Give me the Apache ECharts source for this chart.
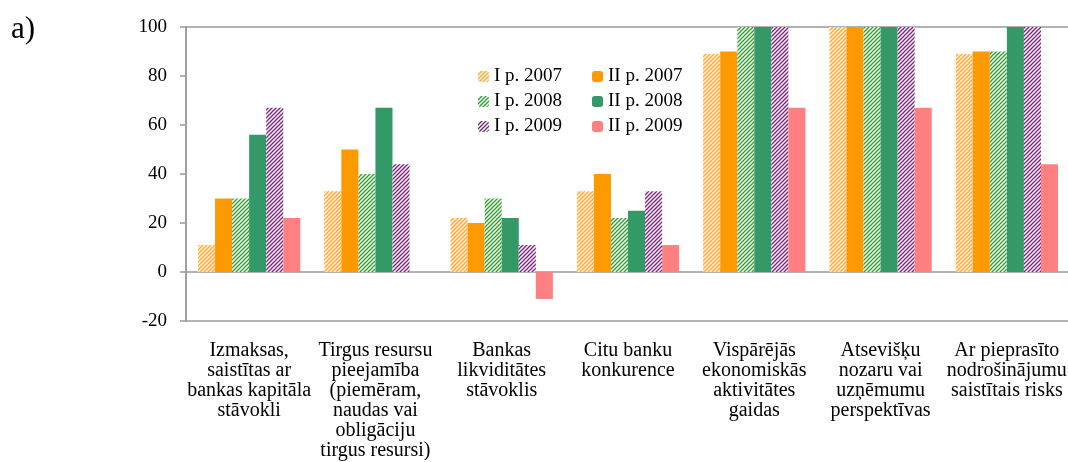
<!DOCTYPE html>
<html>
<head>
<meta charset="utf-8">
<script src="https://cdn.jsdelivr.net/npm/echarts@6/dist/echarts.min.js"></script>
<style>
  html, body { margin: 0; padding: 0; background: #fff; }
  #chart { width: 1068px; height: 462px; }
</style>
</head>
<body>
<div id="chart"></div>
<script>
  // kategorijas
  var categories = [
    'Izmaksas,\nsaistītas ar\nbankas kapitāla\nstāvokli',
    'Tirgus resursu\npieejamība\n(piemēram,\nnaudas vai\nobligāciju\ntirgus resursi)',
    'Bankas\nlikviditātes\nstāvoklis',
    'Citu banku\nkonkurence',
    'Vispārējās\nekonomiskās\naktivitātes\ngaidas',
    'Atsevišķu\nnozaru vai\nuzņēmumu\nperspektīvas',
    'Ar pieprasīto\nnodrošinājumu\nsaistītais risks'
  ];
  var seriesNames = ['I p. 2007', 'II p. 2007', 'I p. 2008', 'II p. 2008', 'I p. 2009', 'II p. 2009'];

  var iP2007 = [11, 33, 22, 33, 89, 100, 89];
  var iiP2007 = [30, 50, 20, 40, 90, 100, 90];
  var iP2008 = [30, 40, 30, 22, 100, 100, 90];
  var iiP2008 = [56, 67, 22, 25, 100, 100, 100];
  var iP2009 = [67, 44, 11, 33, 100, 100, 100];
  var iiP2009 = [22, 0, -11, 11, 67, 67, 44];

  var yTicks = [-20, 0, 20, 40, 60, 80, 100];

  // svītrots fons
  function hatch(color, bg) {
    var c = document.createElement('canvas');
    c.width = 4;
    c.height = 4;
    var g = c.getContext('2d');
    g.fillStyle = bg;
    g.fillRect(0, 0, 4, 4);
    g.strokeStyle = color;
    g.lineWidth = 1.3;
    g.beginPath();
    g.moveTo(0, 4); g.lineTo(4, 0);
    g.moveTo(-1, 1); g.lineTo(1, -1);
    g.moveTo(3, 5); g.lineTo(5, 3);
    g.stroke();
    return {image: c, repeat: 'repeat'};
  }

  var colors = [
    hatch('#FFAA33', '#FFF3E0'),
    '#FF9900',
    hatch('#2E9A2E', '#FFFFFF'),
    '#339966',
    hatch('#7A1F7A', '#FFFFFF'),
    '#FF8080'
  ];
  var values = [iP2007, iiP2007, iP2008, iiP2008, iP2009, iiP2009];

  var series = [];
  for (var i = 0; i < seriesNames.length; i++) {
    series.push({
      name: seriesNames[i],
      type: 'bar',
      data: values[i],
      barGap: '0%',
      barCategoryGap: '19%',
      itemStyle: {color: colors[i]}
    });
  }

  var serif = 'Liberation Serif';
  var myChart = echarts.init(document.getElementById('chart'));
  myChart.setOption({
    animation: false,
    textStyle: {fontFamily: serif, color: '#000'},
    graphic: [{
      type: 'text', left: 11, top: 14,
      style: {text: 'a)', font: '31px "Liberation Serif"', fill: '#000'}
    }],
    legend: [{
      data: [seriesNames[0], seriesNames[2], seriesNames[4]],
      orient: 'vertical',
      left: 478, top: 67, padding: 0,
      itemWidth: 11, itemHeight: 11, itemGap: 6,
      textStyle: {fontFamily: serif, fontSize: 19, color: '#000'}
    }, {
      data: [seriesNames[1], seriesNames[3], seriesNames[5]],
      orient: 'vertical',
      left: 592, top: 67, padding: 0,
      itemWidth: 11, itemHeight: 11, itemGap: 6,
      textStyle: {fontFamily: serif, fontSize: 19, color: '#000'}
    }],
    grid: {
      left: 186, top: 27, width: 884, height: 294,
      containLabel: false, outerBoundsMode: 'none',
      show: true, borderColor: '#9a9a9a', borderWidth: 1.5
    },
    xAxis: {
      type: 'category',
      data: categories,
      axisLine: {onZero: true, lineStyle: {color: '#9a9a9a', width: 1.5}},
      axisTick: {inside: true, length: 5, lineStyle: {color: '#9a9a9a', width: 1.5}},
      axisLabel: {
        interval: 0, margin: 20, fontFamily: serif, fontSize: 20,
        lineHeight: 20, color: '#000', hideOverlap: false
      }
    },
    yAxis: {
      type: 'value',
      min: yTicks[0], max: yTicks[yTicks.length - 1], interval: 20,
      splitLine: {show: false},
      axisLine: {show: true, lineStyle: {color: '#9a9a9a', width: 1.5}},
      axisTick: {show: true, length: 6, lineStyle: {color: '#9a9a9a', width: 1.5}},
      axisLabel: {margin: 19, fontFamily: serif, fontSize: 19, color: '#000'}
    },
    series: series
  });
</script>
</body>
</html>
